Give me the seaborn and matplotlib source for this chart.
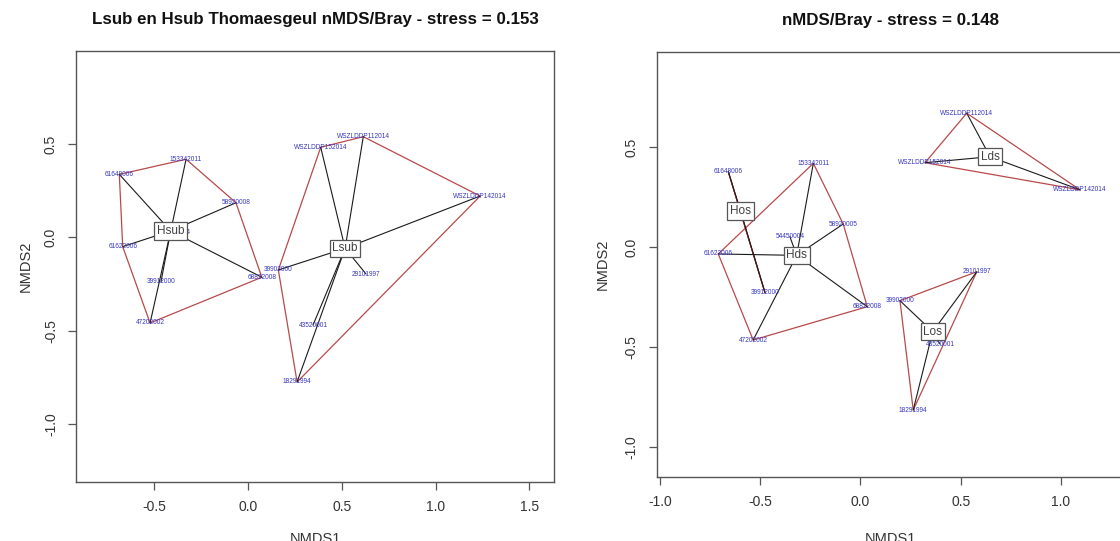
"""
Twee nMDS-ordinaties (Bray-Curtis) van de Thomaesgeul:
links Lsub/Hsub, rechts Hos/Hds/Lds/Los, met hull (rood) en spider (zwart).
"""

import pandas as pd
import matplotlib
matplotlib.use("Agg")
import matplotlib.pyplot as plt
import seaborn as sns

# ---------- links: Lsub en Hsub ----------
links_namen = ["61648006", "153342011", "58920008", "54450004", "61622006",
               "39912000", "47202002", "68822008",
               "WSZLDDP112014", "WSZLDDP152014", "WSZLDDP142014", "29101997",
               "43520001", "18291994", "39902000"]
links_x = [-0.687, -0.331, -0.065, -0.385, -0.669, -0.465, -0.523, 0.073,
           0.614, 0.387, 1.237, 0.629, 0.346, 0.261, 0.161]
links_y = [0.337, 0.418, 0.185, 0.028, -0.050, -0.239, -0.459, -0.214,
           0.539, 0.482, 0.221, -0.197, -0.470, -0.775, -0.175]
links_groep = ["Hsub"] * 8 + ["Lsub"] * 7
links_centra = ["Hsub", "Lsub"]
links_cx = [-0.413, 0.517]
links_cy = [0.034, -0.059]
links_hull = {
    "Hsub": ["61648006", "153342011", "58920008", "68822008", "47202002", "61622006"],
    "Lsub": ["39902000", "WSZLDDP152014", "WSZLDDP112014", "WSZLDDP142014", "18291994"],
}

# ---------- rechts: Hos, Hds, Lds, Los ----------
rechts_namen = ["61648006", "39912000",
                "153342011", "58920005", "54450004", "61622006", "68822008", "47202002",
                "WSZLDDP112014", "WSZLDDP152014", "WSZLDDP142014",
                "29101997", "39902000", "43520001", "18291994"]
rechts_x = [-0.659, -0.476,
            -0.235, -0.086, -0.352, -0.709, 0.034, -0.535,
            0.530, 0.322, 1.095,
            0.580, 0.197, 0.397, 0.263]
rechts_y = [0.377, -0.229,
            0.419, 0.115, 0.052, -0.035, -0.299, -0.466,
            0.670, 0.422, 0.286,
            -0.124, -0.269, -0.486, -0.817]
rechts_groep = ["Hos"] * 2 + ["Hds"] * 6 + ["Lds"] * 3 + ["Los"] * 4
rechts_centra = ["Hos", "Hds", "Lds", "Los"]
rechts_cx = [-0.598, -0.318, 0.646, 0.360]
rechts_cy = [0.180, -0.042, 0.452, -0.424]
rechts_hull = {
    "Hos": ["61648006", "39912000"],
    "Hds": ["61622006", "153342011", "58920005", "68822008", "47202002"],
    "Lds": ["WSZLDDP112014", "WSZLDDP142014", "WSZLDDP152014"],
    "Los": ["39902000", "29101997", "18291994"],
}

titels = ["Lsub en Hsub Thomaesgeul nMDS/Bray - stress = 0.153",
          "nMDS/Bray - stress = 0.148"]

ROOD = "#b8494a"
BLAUW = "#3535c0"
GRIJS = "#555555"
TEKST = "#333333"


def teken_panel(ax, namen, xs, ys, groepen, centra, cx, cy, hulls):
    df = pd.DataFrame({"naam": namen, "x": xs, "y": ys, "groep": groepen})
    centrum = pd.DataFrame({"groep": centra, "x": cx, "y": cy}).set_index("groep")

    # hulls (gesloten polygonen)
    rijen = []
    for g, volg in hulls.items():
        for i, n in enumerate(volg + volg[:1]):
            r = df[(df.naam == n) & (df.groep == g)].iloc[0]
            rijen.append({"groep": g, "orde": i, "x": r.x, "y": r.y})
    hull_df = pd.DataFrame(rijen)
    sns.lineplot(data=hull_df, x="x", y="y", units="groep", estimator=None,
                 sort=False, color=ROOD, lw=0.9, ax=ax)

    # spider: van centrum naar elk punt
    rijen = []
    for i, r in df.iterrows():
        c = centrum.loc[r.groep]
        rijen.append({"seg": i, "x": c.x, "y": c.y})
        rijen.append({"seg": i, "x": r.x, "y": r.y})
    spin_df = pd.DataFrame(rijen)
    sns.lineplot(data=spin_df, x="x", y="y", units="seg", estimator=None,
                 sort=False, color="#1a1a1a", lw=0.8, ax=ax)

    for _, r in df.iterrows():
        ax.text(r.x, r.y, r.naam, color=BLAUW, fontsize=4.7,
                ha="center", va="center", zorder=4)

    for g, r in centrum.iterrows():
        ax.text(r.x, r.y, g, color="#404040", fontsize=8.5, ha="center", va="center",
                zorder=5, bbox=dict(boxstyle="square,pad=0.22", fc="white",
                                    ec=GRIJS, lw=0.9))


sns.set_style("white")
plt.rcParams["font.family"] = ["Liberation Sans", "DejaVu Sans"]

fig = plt.figure(figsize=(11.2, 5.41), dpi=100)
ax1 = fig.add_axes([76 / 1120, 1 - 481.5 / 541, 478 / 1120, 430.8 / 541])
ax2 = fig.add_axes([656.7 / 1120, 1 - 477 / 541, 468.3 / 1120, 425.3 / 541])

teken_panel(ax1, links_namen, links_x, links_y, links_groep,
            links_centra, links_cx, links_cy, links_hull)
teken_panel(ax2, rechts_namen, rechts_x, rechts_y, rechts_groep,
            rechts_centra, rechts_cx, rechts_cy, rechts_hull)

ax1.set_xlim(-0.918, 1.631)
ax1.set_ylim(-1.308, 0.9995)
ax1.set_xticks([-0.5, 0.0, 0.5, 1.0, 1.5])
ax2.set_xlim(-1.016, 1.319)
ax2.set_ylim(-1.152, 0.978)
ax2.set_xticks([-1.0, -0.5, 0.0, 0.5, 1.0])

for ax, titel, lx, ly in [(ax1, titels[0], -0.117, -0.105),
                          (ax2, titels[1], -0.129, -0.115)]:
    ax.set_yticks([-1.0, -0.5, 0.0, 0.5])
    ax.xaxis.set_major_formatter(matplotlib.ticker.FormatStrFormatter("%.1f"))
    ax.yaxis.set_major_formatter(matplotlib.ticker.FormatStrFormatter("%.1f"))
    ax.tick_params(axis="both", direction="out", length=6, width=0.9,
                   color=GRIJS, labelcolor=TEKST, labelsize=10,
                   bottom=True, left=True)
    ax.tick_params(axis="x", pad=7)
    ax.tick_params(axis="y", pad=7, labelrotation=90)
    for lab in ax.get_yticklabels():
        lab.set_va("center")
    for s in ax.spines.values():
        s.set_color(GRIJS)
        s.set_linewidth(1.0)
    ax.set_xlabel("NMDS1", fontsize=10.5, color=TEKST)
    ax.set_ylabel("NMDS2", fontsize=10.5, color=TEKST)
    ax.xaxis.set_label_coords(0.5, lx)
    ax.yaxis.set_label_coords(ly, 0.5)
    ax.yaxis.label.set_va("center")
    ax.set_title(titel, fontsize=12.2, fontweight="bold", color="#111111", pad=19)

fig.savefig("out.png", dpi=100)
